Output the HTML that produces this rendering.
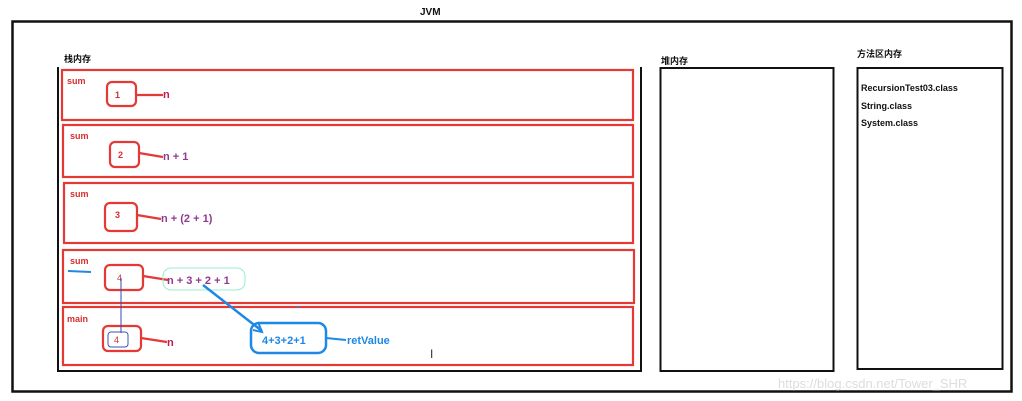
<!DOCTYPE html>
<html><head><meta charset="utf-8"><style>
html,body{margin:0;padding:0;background:#fff;}
svg{display:block;font-family:"Liberation Sans","Noto Sans CJK SC",sans-serif;}
</style></head><body>
<svg width="1022" height="401" viewBox="0 0 1022 401" xmlns="http://www.w3.org/2000/svg">
<rect width="1022" height="401" fill="#fff"/>
<text x="420" y="15" font-size="10" font-weight="bold" fill="#111">JVM</text>
<rect x="12.5" y="21.5" width="999" height="370" fill="none" stroke="#111" stroke-width="2.5"/>
<text x="64" y="62" font-size="9" font-weight="bold" fill="#111">栈内存</text>
<polyline points="58,67 58,371 641,371 641,67" fill="none" stroke="#111" stroke-width="2"/>
<g fill="none" stroke="#e53935" stroke-width="2.2">
<rect x="62" y="70" width="571" height="50"/>
<rect x="63" y="125" width="570" height="52"/>
<rect x="64" y="183" width="569" height="60"/>
<rect x="63" y="250" width="571" height="53"/>
<rect x="63" y="307" width="570" height="58"/>
<rect x="107" y="82" width="29" height="24" rx="5"/>
<rect x="110" y="142" width="29" height="25" rx="5"/>
<rect x="105" y="203" width="32" height="28" rx="5"/>
<rect x="105" y="265" width="38" height="25" rx="5"/>
<rect x="103" y="326" width="38" height="25" rx="5"/>
<line x1="136" y1="95" x2="163" y2="95"/>
<line x1="139" y1="153" x2="163" y2="157"/>
<line x1="137" y1="215" x2="161" y2="219"/>
<line x1="143" y1="276" x2="168" y2="280"/>
<line x1="141" y1="338" x2="167" y2="342"/>
</g>
<g font-size="9" font-weight="bold" fill="#d32f2f">
<text x="67" y="84">sum</text>
<text x="70" y="139">sum</text>
<text x="70" y="197">sum</text>
<text x="70" y="264">sum</text>
<text x="67" y="322">main</text>
<text x="115" y="98">1</text>
<text x="118" y="158">2</text>
<text x="115" y="218">3</text>
<text x="117" y="281" font-weight="normal">4</text>
<text x="114" y="343" font-weight="normal">4</text>
</g>
<g font-size="11" font-weight="bold" fill="#8e3a8e">
<text x="163" y="98" fill="#c2185b">n</text>
<text x="163" y="160">n  + 1</text>
<text x="161" y="222">n + (2 + 1)</text>
<text x="167" y="284">n + 3 + 2 + 1</text>
<text x="167" y="346" fill="#c2185b">n</text>
</g>
<rect x="163" y="268" width="82" height="22" rx="8" fill="none" stroke="#9ec" stroke-width="1"/>
<line x1="68" y1="271" x2="91" y2="272" stroke="#1e88e5" stroke-width="2"/>
<line x1="121" y1="278" x2="121" y2="333" stroke="#3949ab" stroke-width="1"/>
<rect x="108" y="332" width="20" height="15" rx="3" fill="none" stroke="#3f51b5" stroke-width="1"/>
<rect x="251" y="323" width="75" height="30" rx="8" fill="none" stroke="#1e88e5" stroke-width="2.5"/>
<line x1="203" y1="285" x2="262" y2="331" stroke="#1e88e5" stroke-width="2.5"/>
<polyline points="253,330 262,332 258,322" fill="none" stroke="#1e88e5" stroke-width="2"/>
<line x1="326" y1="338" x2="346" y2="340" stroke="#1e88e5" stroke-width="2"/>
<text x="262" y="344" font-size="11" font-weight="bold" fill="#1e88e5">4+3+2+1</text>
<text x="347" y="344" font-size="11" font-weight="bold" fill="#1e88e5">retValue</text>
<circle cx="298" cy="307" r="1.2" fill="#1e88e5"/>
<text x="430" y="358" font-size="12" fill="#333">I</text>
<text x="661" y="64" font-size="9" font-weight="bold" fill="#111">堆内存</text>
<rect x="660.5" y="68" width="173" height="303" fill="none" stroke="#111" stroke-width="2"/>
<text x="857" y="57" font-size="9" font-weight="bold" fill="#111">方法区内存</text>
<rect x="857.5" y="68" width="145" height="301" fill="none" stroke="#111" stroke-width="2"/>
<g font-size="9" font-weight="bold" fill="#111">
<text x="861" y="91">RecursionTest03.class</text>
<text x="861" y="109">String.class</text>
<text x="861" y="126">System.class</text>
</g>
<text x="778" y="388" font-size="13" fill="#ddd">https://blog.csdn.net/Tower_SHR</text>
</svg>
</body></html>
